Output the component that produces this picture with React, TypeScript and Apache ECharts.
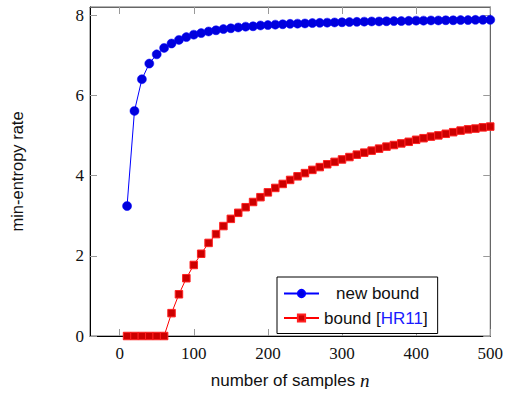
import React, { useEffect, useRef } from "react";
import * as echarts from "echarts";

const samples = [
  10, 20, 30, 40, 50, 60, 70, 80, 90, 100,
  110, 120, 130, 140, 150, 160, 170, 180, 190, 200,
  210, 220, 230, 240, 250, 260, 270, 280, 290, 300,
  310, 320, 330, 340, 350, 360, 370, 380, 390, 400,
  410, 420, 430, 440, 450, 460, 470, 480, 490, 500,
];

const newBound = [
  3.24, 5.61, 6.4, 6.79, 7.02, 7.18, 7.29, 7.38, 7.45, 7.51,
  7.55, 7.59, 7.62, 7.65, 7.67, 7.69, 7.71, 7.72, 7.74, 7.75,
  7.76, 7.77, 7.78, 7.785, 7.79, 7.8, 7.805, 7.81, 7.815, 7.82,
  7.825, 7.83, 7.835, 7.84, 7.84, 7.845, 7.85, 7.85, 7.855, 7.86,
  7.86, 7.865, 7.865, 7.87, 7.87, 7.875, 7.875, 7.88, 7.88, 7.88,
];

const hr11Bound = [
  0, 0, 0, 0, 0, 0, 0.57, 1.04, 1.44, 1.77,
  2.05, 2.32, 2.54, 2.74, 2.92, 3.07, 3.21, 3.34, 3.46, 3.58,
  3.69, 3.79, 3.89, 3.98, 4.06, 4.14, 4.21, 4.28, 4.34, 4.4,
  4.46, 4.52, 4.57, 4.62, 4.67, 4.72, 4.76, 4.8, 4.84, 4.89,
  4.93, 4.97, 5.0, 5.04, 5.08, 5.12, 5.15, 5.17, 5.2, 5.22,
];

const xTicks = [0, 100, 200, 300, 400, 500];
const yTicks = [0, 2, 4, 6, 8];

const SERIF = "'Liberation Serif', 'DejaVu Serif', serif";
const SANS = "'Liberation Sans', Arial, sans-serif";

export default function App() {
  const ref = useRef<HTMLDivElement>(null);

  useEffect(() => {
    if (!ref.current) return;
    const chart = echarts.init(ref.current, undefined, { renderer: "svg" });

    const tickStyle = { color: "#999", width: 1 };
    const baseX = {
      type: "value",
      min: -40,
      max: 500,
      splitLine: { show: false },
    };
    const baseY = {
      type: "value",
      min: 0,
      max: 8.2,
      splitLine: { show: false },
    };

    chart.setOption({
      animation: false,
      textStyle: { fontFamily: SANS },
      grid: {
        left: 89,
        right: 15,
        top: 7,
        bottom: 54,
        show: true,
        borderColor: "#666",
        borderWidth: 1,
        backgroundColor: "transparent",
      },
      xAxis: [
        {
          ...baseX,
          position: "bottom",
          name: "{a|number of samples }{b|n}",
          nameLocation: "middle",
          nameGap: 35,
          nameTextStyle: {
            rich: {
              a: { fontFamily: SANS, fontSize: 17, color: "#111" },
              b: { fontFamily: SERIF, fontSize: 19, fontStyle: "italic", color: "#111" },
            },
          },
          axisLine: { show: true, onZero: false, lineStyle: { color: "#000", width: 1 } },
          axisTick: { show: true, inside: true, length: 7, lineStyle: tickStyle, customValues: xTicks },
          axisLabel: {
            show: true,
            customValues: xTicks,
            fontFamily: SERIF,
            fontSize: 17,
            color: "#111",
            margin: 9,
          },
        },
        {
          ...baseX,
          position: "top",
          axisLine: { show: true, onZero: false, lineStyle: { color: "#666", width: 1 } },
          axisTick: { show: true, inside: true, length: 7, lineStyle: tickStyle, customValues: xTicks },
          axisLabel: { show: false },
        },
      ],
      yAxis: [
        {
          ...baseY,
          position: "left",
          name: "min-entropy rate",
          nameLocation: "middle",
          nameGap: 65,
          nameTextStyle: { fontFamily: SANS, fontSize: 16.5, color: "#111" },
          axisLine: { show: true, onZero: false, lineStyle: { color: "#000", width: 1 } },
          axisTick: { show: true, inside: true, length: 7, lineStyle: tickStyle, customValues: yTicks },
          axisLabel: {
            show: true,
            customValues: yTicks,
            fontFamily: SERIF,
            fontSize: 17,
            color: "#111",
            margin: 6,
          },
        },
        {
          ...baseY,
          position: "right",
          axisLine: { show: true, onZero: false, lineStyle: { color: "#666", width: 1 } },
          axisTick: { show: true, inside: true, length: 7, lineStyle: tickStyle, customValues: yTicks },
          axisLabel: { show: false },
        },
      ],
      legend: {
        orient: "vertical",
        left: 277,
        top: 277,
        padding: [8, 10, 7, 6],
        itemGap: 7.5,
        itemWidth: 35,
        itemHeight: 9,
        backgroundColor: "#fff",
        borderColor: "#000",
        borderWidth: 1,
        borderRadius: 0,
        data: ["new bound", "bound [HR11]"],
        formatter: (name: string) =>
          name === "new bound" ? "{p|new bound}" : "{t|bound [}{h|HR11}{t|]}",
        textStyle: {
          fontFamily: SANS,
          fontSize: 17,
          color: "#111",
          rich: {
            p: { fontFamily: SANS, fontSize: 17, color: "#111", padding: [0, 0, 0, 12] },
            t: { fontFamily: SANS, fontSize: 17, color: "#111" },
            h: { fontFamily: SANS, fontSize: 17, color: "#1a1aff" },
          },
        },
      },
      series: [
        {
          name: "new bound",
          type: "line",
          xAxisIndex: 0,
          yAxisIndex: 0,
          data: samples.map((n, i) => [n, newBound[i]]),
          symbol: "circle",
          symbolSize: 9,
          clip: false,
          itemStyle: { color: "#0000dd", borderColor: "#0000ff", borderWidth: 0.5 },
          lineStyle: { color: "#0000ff", width: 1 },
        },
        {
          name: "bound [HR11]",
          type: "line",
          xAxisIndex: 0,
          yAxisIndex: 0,
          data: samples.map((n, i) => [n, hr11Bound[i]]),
          symbol: "rect",
          symbolSize: 7.5,
          clip: false,
          itemStyle: { color: "#cc0000", borderColor: "#ff2020", borderWidth: 1 },
          lineStyle: { color: "#ff0000", width: 1 },
        },
      ],
    });

    return () => chart.dispose();
  }, []);

  return <div ref={ref} style={{ width: 506, height: 395, position: "absolute", left: 0, top: 0 }} />;
}
